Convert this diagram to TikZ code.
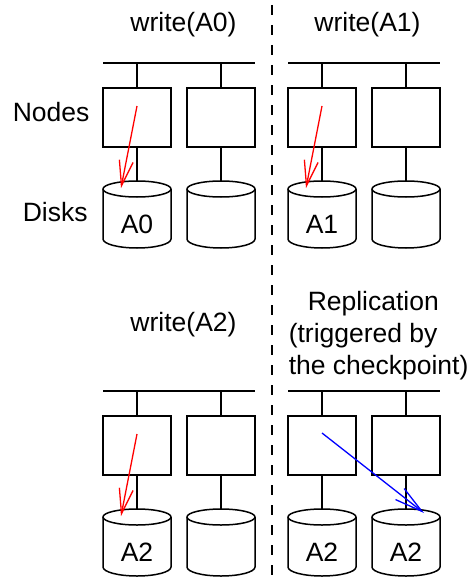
\documentclass[tikz,border=0pt]{standalone}
\usepackage{fontspec}
\setmainfont{Liberation Sans}
\usetikzlibrary{arrows.meta}
\begin{document}
\begin{tikzpicture}[x=1pt,y=-1pt,line width=1.5pt,
  every node/.style={font=\fontsize{26.5}{31}\selectfont,inner sep=0pt},
  nodebox/.style={draw,rectangle,minimum width=68pt,minimum height=59pt,line width=1.5pt},
  wire/.style={line width=1.5pt},
  sepline/.style={line width=1.8pt,dash pattern=on 10pt off 10pt},
  writearrow/.style={red,line width=1.3pt,-{Straight Barb[length=25pt,width=14pt]}},
  reparrow/.style={blue,line width=1.3pt,-{Straight Barb[length=28pt,width=14pt]}},
  lbl/.style={anchor=base},
  lblw/.style={anchor=base west},
  disk/.pic={
    \draw[line width=1.5pt,fill=white] (-34,0) -- (-34,50) arc[start angle=180,end angle=0,x radius=34,y radius=9] -- (34,0);
    \draw[line width=1.5pt] (0,0) ellipse[x radius=34,y radius=8];
    \coordinate (-top) at (0,-8);
  }]
\useasboundingbox (0,0) rectangle (470,578);
\foreach \p/\dx/\dy in {a/0/0,b/185/0,c/0/328,d/185/328}{
  \coordinate (\p bl) at (103+\dx,63+\dy);
  \coordinate (\p br) at (255+\dx,63+\dy);
  \draw[wire] (\p bl) -- (\p br);
  \node[nodebox] (\p1) at (137+\dx,117.5+\dy) {};
  \node[nodebox] (\p2) at (221+\dx,117.5+\dy) {};
  \pic (\p d1) at (137+\dx,189+\dy) {disk};
  \pic (\p d2) at (221+\dx,189+\dy) {disk};
  \draw[wire] (\p1.north) -- (\p1.north |- \p bl);
  \draw[wire] (\p2.north) -- (\p2.north |- \p bl);
  \draw[wire] (\p1.south) -- (\p d1-top);
  \draw[wire] (\p2.south) -- (\p d2-top);
}
% separator
\coordinate (st) at (272,5);
\coordinate (sb) at (272,578);
\draw[sepline] (st) -- (sb);
% titles
\node[lbl] (w0) at (183.5,31.7) {write(A0)};
\node[lbl] (w1) at (367.5,31.7) {write(A1)};
\node[lbl] (w2) at (183.5,331.7) {write(A2)};
\node[lblw] (r1) at (307,310) {Replication};
\node[lblw] (r2) at (288,342) {(triggered by};
\node[lblw] (r3) at (288,374) {the checkpoint)};
\node[lblw] (nodes) at (12,121.7) {Nodes};
\node[lblw] (disks) at (22,221.7) {Disks};
% disk labels
\node[lbl] (ta) at (137,233) {A0};
\node[lbl] (tb) at (322,233) {A1};
\node[lbl] (tc) at (137,561) {A2};
\node[lbl] (td1) at (322,561) {A2};
\node[lbl] (td2) at (406,561) {A2};
% write arrows
\coordinate (sa) at (137,106);  \coordinate (ea) at (121,188);
\coordinate (sbb) at (322,106); \coordinate (eb) at (306,188);
\coordinate (sc) at (137,434);  \coordinate (ec) at (121,516);
\coordinate (sd) at (322,433);  \coordinate (ed) at (424,513);
\draw[writearrow] (sa) -- (ea);
\draw[writearrow] (sbb) -- (eb);
\draw[writearrow] (sc) -- (ec);
\draw[reparrow] (sd) -- (ed);
\end{tikzpicture}
\end{document}
